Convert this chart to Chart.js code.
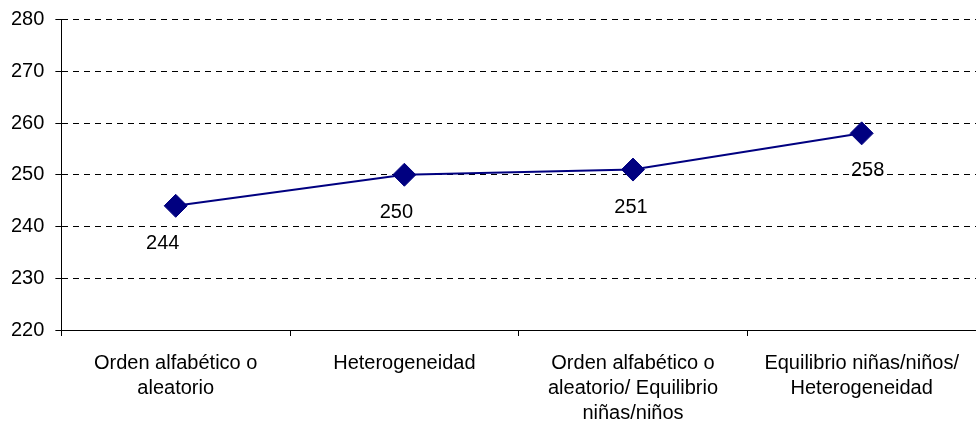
<!DOCTYPE html>
<html>
<head>
<meta charset="utf-8">
<script src="https://cdn.jsdelivr.net/npm/chart.js@4"></script>
<style>
html,body{margin:0;padding:0;background:#fff;}
#wrap{width:976px;height:423px;position:relative;}
</style>
</head>
<body>
<div id="wrap"><canvas id="c"></canvas></div>
<script>
const categories = [
  ["Orden alfabético o","aleatorio"],
  ["Heterogeneidad"],
  ["Orden alfabético o","aleatorio/ Equilibrio","niñas/niños"],
  ["Equilibrio niñas/niños/","Heterogeneidad"]
];
const values = [244, 250, 251, 258];
const yTicks = [220, 230, 240, 250, 260, 270, 280];

const labelDx = [-13, -8, -2, 6];

const FONT = "'Liberation Sans', Arial, sans-serif";

const dataLabels = {
  id: 'dataLabels',
  afterDatasetsDraw(chart) {
    const ctx = chart.ctx;
    const meta = chart.getDatasetMeta(0);
    ctx.save();
    ctx.font = "20px " + FONT;
    ctx.fillStyle = "#000";
    ctx.textAlign = "center";
    ctx.textBaseline = "middle";
    meta.data.forEach((pt, i) => {
      ctx.fillText(String(values[i]), pt.x + labelDx[i], pt.y + 37.5);
    });
    ctx.restore();
  }
};

new Chart(document.getElementById('c'), {
  type: 'line',
  data: {
    labels: categories,
    datasets: [{
      data: values,
      borderColor: '#000080',
      backgroundColor: '#000080',
      borderWidth: 2,
      pointStyle: 'rectRot',
      pointRadius: 11.5,
      pointHoverRadius: 11.5,
      pointBorderWidth: 1,
      tension: 0,
      fill: false,
      clip: false
    }]
  },
  options: {
    responsive: true,
    maintainAspectRatio: false,
    animation: false,
    events: [],
    layout: { autoPadding: false, padding: { top: 0, right: 0, bottom: 0, left: 0 } },
    plugins: { legend: { display: false }, tooltip: { enabled: false } },
    scales: {
      x: {
        offset: true,
        afterFit(scale) {
          scale.paddingLeft = 0;
          scale.paddingRight = 0;
          scale.height = 93;
        },
        grid: {
          offset: true,
          drawOnChartArea: false,
          drawTicks: true,
          tickLength: 6,
          tickColor: '#000',
          tickWidth: 1
        },
        border: { display: true, color: '#000', width: 1 },
        ticks: {
          font: { family: FONT, size: 20, lineHeight: 1.25 },
          color: '#000',
          padding: 15,
          maxRotation: 0,
          autoSkip: false
        }
      },
      y: {
        min: yTicks[0],
        max: yTicks[yTicks.length - 1],
        afterBuildTicks(axis) { axis.ticks = yTicks.map(v => ({ value: v })); },
        afterFit(scale) {
          scale.paddingTop = 19.5;
          scale.paddingBottom = 0;
        },
        grid: {
          color: '#000',
          lineWidth: 1,
          drawTicks: true,
          tickLength: 6,
          tickColor: '#000',
          tickBorderDash: []
        },
        border: { display: true, color: '#000', width: 1, dash: [6, 5] },
        ticks: {
          font: { family: FONT, size: 20 },
          color: '#000',
          padding: 11
        }
      }
    }
  },
  plugins: [dataLabels]
});
</script>
</body>
</html>
